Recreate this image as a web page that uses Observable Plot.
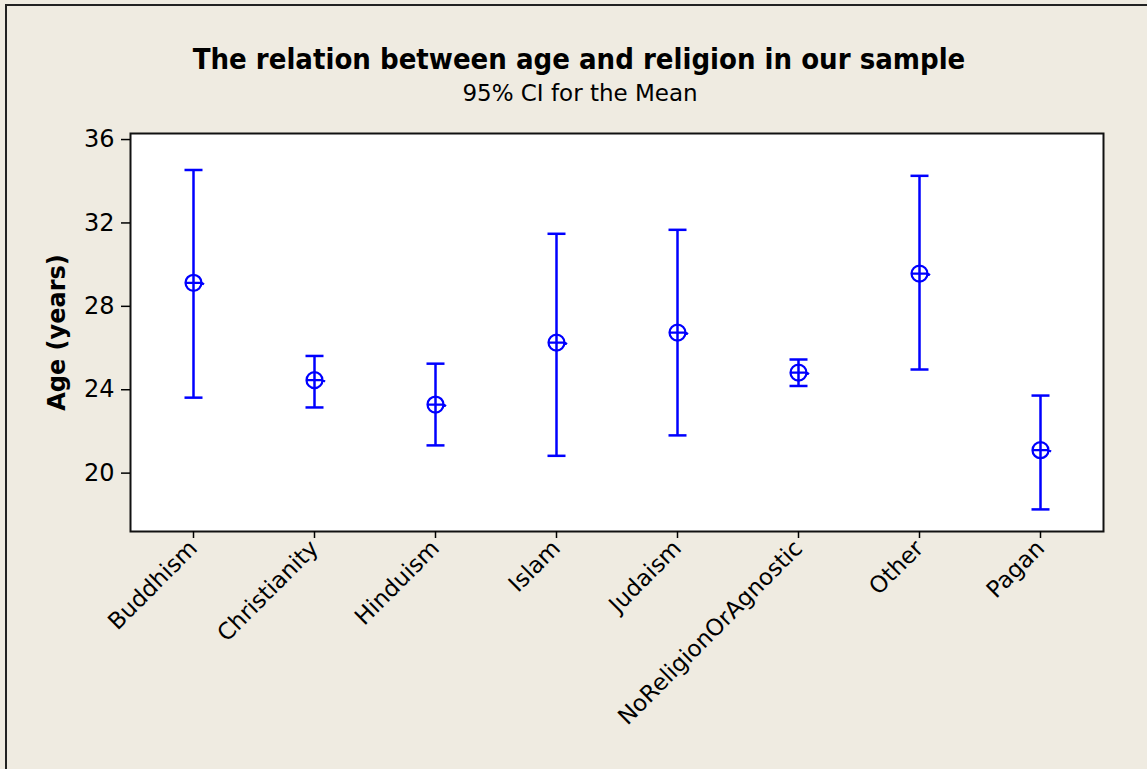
<!DOCTYPE html>
<html>
<head>
<meta charset="utf-8">
<script src="https://cdn.jsdelivr.net/npm/d3@7"></script>
<script src="https://cdn.jsdelivr.net/npm/@observablehq/plot@0.6"></script>
<style>
  html, body { margin: 0; padding: 0; background: #EFEBE1; }
  #wrap { position: relative; width: 1147px; height: 769px; background: #EFEBE1; overflow: hidden; font-family: "DejaVu Sans", sans-serif; color: #000; }
  #border { position: absolute; left: 5px; top: 4px; width: 1200px; height: 800px; border-top: 2px solid #222; border-left: 2px solid #222; }
  #title { position: absolute; left: 0; width: 1158px; top: 45px; text-align: center; font-family: "DejaVu Sans Condensed", "DejaVu Sans", sans-serif; font-weight: bold; font-size: 29px; line-height: 1; white-space: nowrap; }
  #subtitle { position: absolute; left: 0; width: 1160px; top: 82px; text-align: center; font-family: "DejaVu Sans", sans-serif; font-size: 23px; line-height: 1; white-space: nowrap; }
  #chart svg { position: absolute; left: 0; top: 0; }
</style>
</head>
<body>
<div id="wrap">
  <div id="border"></div>
  <div id="chart"></div>
  <div id="title">The relation between age and religion in our sample</div>
  <div id="subtitle">95% CI for the Mean</div>
</div>
<script>
const categories = ["Buddhism", "Christianity", "Hinduism", "Islam", "Judaism", "NoReligionOrAgnostic", "Other", "Pagan"];
const means = [29.13, 24.46, 23.29, 26.26, 26.74, 24.82, 29.57, 21.10];
const lower = [23.62, 23.15, 21.33, 20.83, 21.81, 24.18, 24.97, 18.26];
const upper = [34.54, 25.62, 25.25, 31.48, 31.67, 25.45, 34.26, 23.72];
const yTicks = [20, 24, 28, 32, 36];

const data = categories.map((c, i) => ({religion: c, mean: means[i], lo: lower[i], hi: upper[i]}));

const blue = "#0000FF";

const meanSymbol = {
  draw(ctx, size) {
    const r = Math.sqrt(size / Math.PI);
    ctx.moveTo(r, 0);
    ctx.arc(0, 0, r, 0, 2 * Math.PI);
    ctx.moveTo(-r, 0);
    ctx.lineTo(r, 0);
    ctx.moveTo(r - 1, -1);
    ctx.lineTo(r + 2.5, 1.5);
  }
};
const capSymbol = {
  draw(ctx, size) {
    const r = Math.sqrt(size / Math.PI);
    ctx.moveTo(-r, 0);
    ctx.lineTo(r, 0);
  }
};

const chart = Plot.plot({
  width: 1147,
  height: 769,
  marginTop: 133,
  marginBottom: 238,
  marginLeft: 130,
  marginRight: 44,
  style: { background: "transparent", fontFamily: "DejaVu Sans, sans-serif", color: "#000" },
  x: { type: "point", domain: categories, padding: 0.5 },
  y: { domain: [17.2, 36.29] },
  marks: [
    Plot.frame({ fill: "white", stroke: "#111", strokeWidth: 2 }),
    Plot.axisY({ ticks: yTicks, tickSize: 9, tickPadding: 7, fontSize: 24, label: null, strokeWidth: 1.5 }),
    Plot.axisX({ tickRotate: -45, tickSize: 7, tickPadding: 6, fontSize: 23, label: null, strokeWidth: 1.5 }),
    Plot.text(["Age (years)"], { frameAnchor: "left", textAnchor: "middle", dx: -73, rotate: -90, fontSize: 24, fontWeight: "bold", fill: "#000" }),
    Plot.ruleX(data, { x: "religion", y1: "lo", y2: "hi", stroke: blue, strokeWidth: 2.5 }),
    Plot.dot(data, { x: "religion", y: "lo", symbol: capSymbol, r: 9, stroke: blue, strokeWidth: 2.5 }),
    Plot.dot(data, { x: "religion", y: "hi", symbol: capSymbol, r: 9, stroke: blue, strokeWidth: 2.5 }),
    Plot.dot(data, { x: "religion", y: "mean", symbol: meanSymbol, r: 8, stroke: blue, strokeWidth: 2.2, fill: "none" })
  ]
});
document.getElementById("chart").appendChild(chart);
</script>
</body>
</html>
